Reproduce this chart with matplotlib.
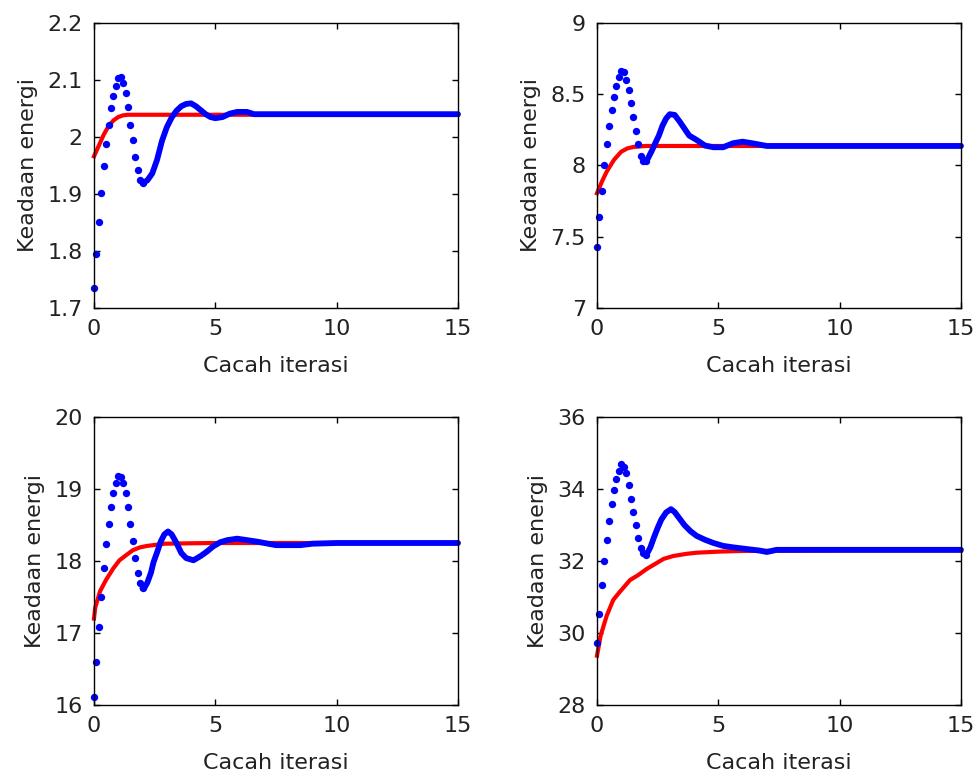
import matplotlib
matplotlib.use("Agg")
import matplotlib.pyplot as plt
from matplotlib.ticker import FormatStrFormatter

# time of the separate dots (first swing of the blue curve)
t_dots = [0.0, 0.1, 0.2, 0.3, 0.4, 0.5, 0.6, 0.7, 0.8, 0.9, 1.0,
          1.1, 1.2, 1.3, 1.4, 1.5, 1.6, 1.7, 1.8, 1.9, 2.0]

# panel 1 (top left)
p1_dots = [1.735, 1.795, 1.851, 1.902, 1.949, 1.988, 2.021, 2.050, 2.072, 2.090, 2.104,
           2.105, 2.095, 2.077, 2.053, 2.021, 1.995, 1.965, 1.942, 1.925, 1.919]
p1_band_t = [2.0, 2.2, 2.4, 2.6, 2.8, 3.0, 3.2, 3.4, 3.6, 3.8, 4.0, 4.2, 4.4, 4.6, 4.8,
             5.0, 5.3, 5.6, 5.9, 6.3, 6.6, 7.0, 8.0, 9.0, 10.0, 11.0, 12.0, 13.0, 14.0, 15.0]
p1_band_y = [1.919, 1.924, 1.936, 1.960, 1.993, 2.017, 2.034, 2.046, 2.054, 2.058, 2.059,
             2.054, 2.047, 2.040, 2.035, 2.033, 2.035, 2.041, 2.044, 2.044, 2.040, 2.040,
             2.040, 2.040, 2.040, 2.040, 2.040, 2.040, 2.040, 2.040]
p1_red_t = [0.0, 0.2, 0.4, 0.6, 0.8, 1.0, 1.2, 1.4, 2.0, 5.0, 10.0, 15.0]
p1_red_y = [1.966, 1.985, 2.004, 2.019, 2.029, 2.035, 2.038, 2.039, 2.039, 2.039, 2.039, 2.039]
p1_yticks = [1.7, 1.8, 1.9, 2.0, 2.1, 2.2]

# panel 2 (top right)
p2_dots = [7.43, 7.64, 7.82, 8.00, 8.15, 8.28, 8.39, 8.48, 8.56, 8.62, 8.665,
           8.655, 8.60, 8.53, 8.44, 8.34, 8.24, 8.15, 8.07, 8.03, 8.03]
p2_band_t = [2.0, 2.1, 2.25, 2.4, 2.55, 2.7, 2.85, 3.0, 3.2, 3.4, 3.6, 3.8, 4.1, 4.45,
             4.8, 5.2, 5.6, 6.0, 6.4, 7.0, 8.0, 9.0, 10.0, 11.0, 12.0, 13.0, 14.0, 15.0]
p2_band_y = [8.03, 8.05, 8.10, 8.156, 8.21, 8.28, 8.33, 8.36, 8.355, 8.31, 8.26, 8.21,
             8.18, 8.14, 8.128, 8.128, 8.156, 8.167, 8.156, 8.137, 8.137, 8.137, 8.137,
             8.137, 8.137, 8.137, 8.137, 8.137]
p2_red_t = [0.0, 0.2, 0.4, 0.7, 1.0, 1.25, 1.5, 2.0, 5.0, 10.0, 15.0]
p2_red_y = [7.805, 7.886, 7.957, 8.04, 8.097, 8.12, 8.13, 8.137, 8.137, 8.137, 8.137]
p2_yticks = [7, 7.5, 8, 8.5, 9]

# panel 3 (bottom left)
p3_dots = [16.115, 16.60, 17.08, 17.50, 17.90, 18.24, 18.51, 18.75, 18.94, 19.08, 19.18,
           19.16, 19.08, 18.95, 18.75, 18.52, 18.28, 18.04, 17.84, 17.69, 17.62]
p3_band_t = [2.0, 2.1, 2.2, 2.35, 2.45, 2.6, 2.75, 2.9, 3.05, 3.2, 3.4, 3.6, 3.8, 4.1,
             4.4, 4.65, 4.9, 5.2, 5.5, 5.9, 6.3, 6.7, 7.1, 7.5, 8.0, 8.5, 9.0, 10.0,
             11.0, 12.0, 13.0, 14.0, 15.0]
p3_band_y = [17.62, 17.64, 17.70, 17.84, 17.98, 18.12, 18.27, 18.37, 18.41, 18.37, 18.25,
             18.11, 18.04, 18.01, 18.07, 18.13, 18.20, 18.26, 18.29, 18.31, 18.29, 18.27,
             18.245, 18.22, 18.22, 18.22, 18.24, 18.25, 18.25, 18.25, 18.25, 18.25, 18.25]
p3_red_t = [0.0, 0.05, 0.25, 0.5, 0.8, 1.05, 1.4, 1.6, 1.9, 2.2, 2.9, 3.8, 4.9, 10.0, 15.0]
p3_red_y = [17.20, 17.35, 17.58, 17.74, 17.90, 18.01, 18.10, 18.15, 18.19, 18.21, 18.24,
            18.245, 18.25, 18.25, 18.25]
p3_yticks = [16, 17, 18, 19, 20]

# panel 4 (bottom right)
p4_dots = [29.71, 30.54, 31.33, 32.00, 32.59, 33.12, 33.58, 33.98, 34.28, 34.51, 34.69,
           34.62, 34.45, 34.12, 33.72, 33.35, 33.00, 32.65, 32.37, 32.22, 32.18]
p4_band_t = [2.0, 2.1, 2.2, 2.35, 2.5, 2.65, 2.85, 3.05, 3.2, 3.4, 3.6, 3.85, 4.1, 4.45,
             4.8, 5.2, 5.6, 6.2, 6.7, 7.0, 7.4, 8.0, 9.0, 10.0, 11.0, 12.0, 13.0, 14.0, 15.0]
p4_band_y = [32.18, 32.25, 32.38, 32.66, 32.92, 33.15, 33.35, 33.44, 33.36, 33.18, 33.00,
             32.83, 32.70, 32.59, 32.50, 32.42, 32.38, 32.33, 32.29, 32.25, 32.31, 32.31,
             32.31, 32.31, 32.31, 32.31, 32.31, 32.31, 32.31]
p4_red_t = [0.0, 0.15, 0.4, 0.67, 0.95, 1.36, 1.7, 2.05, 2.4, 2.75, 3.15, 3.7, 4.1, 5.0,
            6.0, 10.0, 15.0]
p4_red_y = [29.37, 29.93, 30.48, 30.92, 31.15, 31.47, 31.61, 31.78, 31.92, 32.06, 32.14,
            32.20, 32.23, 32.26, 32.28, 32.29, 32.29]
p4_yticks = [28, 30, 32, 34, 36]

xticks = [0, 5, 10, 15]
xlabel = "Cacah iterasi"
ylabel = "Keadaan energi"

plt.rcParams['font.family'] = ['DejaVu Sans']
plt.rcParams['font.size'] = 16

fig = plt.figure(figsize=(9.79, 7.79), dpi=100)
txt = "#222222"


def draw(rect, dots, band_t, band_y, red_t, red_y, yticks):
	ax = fig.add_axes(rect)
	ax.plot(red_t, red_y, color="red", lw=3.0, clip_on=False, zorder=2)
	ax.plot(band_t, band_y, color="blue", lw=4.2, solid_capstyle="round",
		clip_on=False, zorder=3)
	ax.plot(t_dots, dots, "o", color="blue", markersize=5.3, markeredgewidth=0,
		clip_on=False, zorder=3)
	ax.set_xlim(0, 15)
	ax.set_ylim(yticks[0], yticks[-1])
	ax.set_xticks(xticks)
	ax.set_yticks(yticks)
	ax.yaxis.set_major_formatter(FormatStrFormatter("%g"))
	ax.tick_params(direction="in", top=True, right=True, length=4, width=1,
		pad=8, labelsize=16, colors="black", labelcolor=txt)
	for s in ax.spines.values():
		s.set_linewidth(1.0)
		s.set_zorder(4)
	ax.set_xlabel(xlabel, fontsize=16, labelpad=12, color=txt)
	ax.set_ylabel(ylabel, fontsize=16, labelpad=7, color=txt)
	return ax


draw([0.0960, 0.6046, 0.3718, 0.3659], p1_dots, p1_band_t, p1_band_y, p1_red_t, p1_red_y, p1_yticks)
draw([0.6098, 0.6046, 0.3718, 0.3659], p2_dots, p2_band_t, p2_band_y, p2_red_t, p2_red_y, p2_yticks)
draw([0.0960, 0.0950, 0.3718, 0.3697], p3_dots, p3_band_t, p3_band_y, p3_red_t, p3_red_y, p3_yticks)
draw([0.6098, 0.0950, 0.3718, 0.3697], p4_dots, p4_band_t, p4_band_y, p4_red_t, p4_red_y, p4_yticks)

fig.savefig("out.png", dpi=100)
